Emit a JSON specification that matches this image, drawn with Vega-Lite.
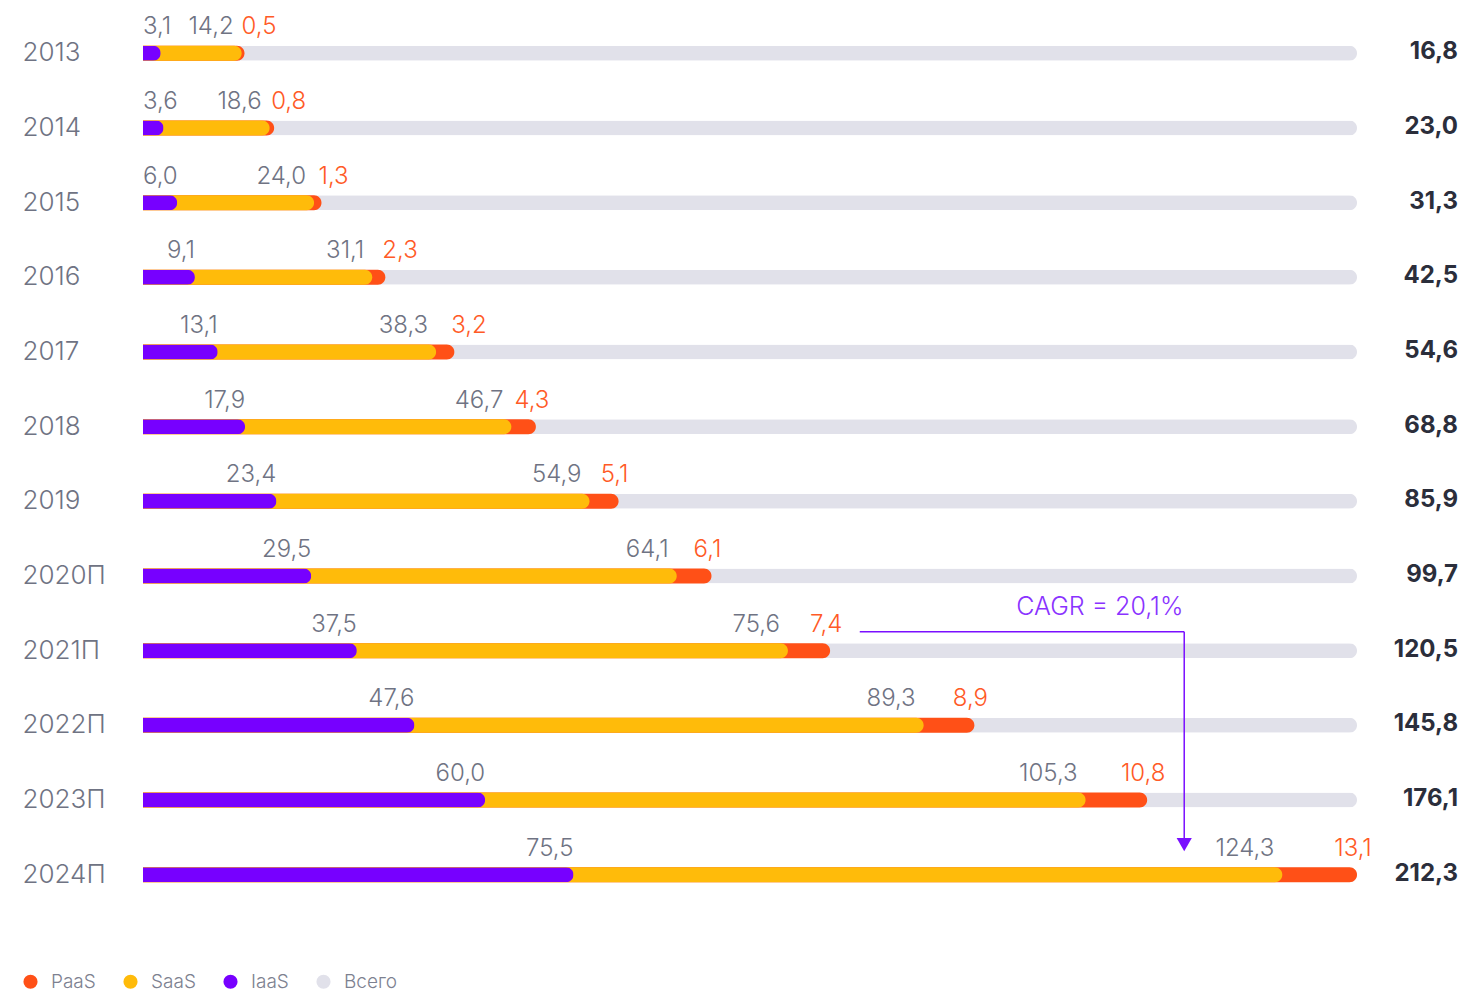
{
  "$schema": "https://vega.github.io/schema/vega-lite/v6.json",
  "width": 1214,
  "height": 896,
  "autosize": "none",
  "padding": {"left": 143, "top": 16, "right": 107, "bottom": 81},
  "background": "#ffffff",
  "config": {
    "view": {"stroke": null},
    "font": "Inter",
    "locale": {"number": {"decimal": ",", "thousands": " ", "grouping": [3], "currency": ["", ""]}}
  },
  "datasets": {
    "market": [
      {"year": "2013", "iaas": 3.1, "saas": 14.2, "paas": 0.5, "total": 16.8},
      {"year": "2014", "iaas": 3.6, "saas": 18.6, "paas": 0.8, "total": 23.0},
      {"year": "2015", "iaas": 6.0, "saas": 24.0, "paas": 1.3, "total": 31.3},
      {"year": "2016", "iaas": 9.1, "saas": 31.1, "paas": 2.3, "total": 42.5},
      {"year": "2017", "iaas": 13.1, "saas": 38.3, "paas": 3.2, "total": 54.6},
      {"year": "2018", "iaas": 17.9, "saas": 46.7, "paas": 4.3, "total": 68.8},
      {"year": "2019", "iaas": 23.4, "saas": 54.9, "paas": 5.1, "total": 85.9},
      {"year": "2020П", "iaas": 29.5, "saas": 64.1, "paas": 6.1, "total": 99.7},
      {"year": "2021П", "iaas": 37.5, "saas": 75.6, "paas": 7.4, "total": 120.5},
      {"year": "2022П", "iaas": 47.6, "saas": 89.3, "paas": 8.9, "total": 145.8},
      {"year": "2023П", "iaas": 60.0, "saas": 105.3, "paas": 10.8, "total": 176.1},
      {"year": "2024П", "iaas": 75.5, "saas": 124.3, "paas": 13.1, "total": 212.3}
    ],
    "note": [{"label": "CAGR = 20,1%"}]
  },
  "data": {"name": "market"},
  "encoding": {
    "y": {
      "field": "year",
      "type": "nominal",
      "scale": {"paddingInner": 0, "paddingOuter": 0},
      "axis": {
        "title": null,
        "ticks": false,
        "domain": false,
        "labelAlign": "left",
        "labelPadding": 121,
        "labelFontSize": 26,
        "labelFont": "Inter",
        "labelFontWeight": 300,
        "labelColor": "#6f7383",
        "labelBaseline": "middle"
      }
    }
  },
  "layer": [
    {
      "transform": [
        {"fold": ["iaas", "saas", "paas"], "as": ["k", "v"]},
        {"aggregate": [{"op": "sum", "field": "v", "as": "s"}], "groupby": ["year", "total"]},
        {"joinaggregate": [{"op": "max", "field": "s", "as": "m"}]}
      ],
      "layer": [
        {
          "mark": {"type": "bar", "height": 15, "cornerRadiusEnd": 7.5},
          "encoding": {
            "x": {"field": "m", "type": "quantitative", "scale": {"nice": false, "zero": true}, "axis": null},
            "color": {
              "datum": "Всего",
              "type": "nominal",
              "scale": {"domain": ["PaaS", "SaaS", "IaaS", "Всего"], "range": ["#ff5017", "#ffbb0a", "#7700ff", "#e1e1ea"]},
              "legend": {
                "title": null,
                "orient": "none",
                "direction": "horizontal",
                "legendX": -122,
                "legendY": 956,
                "symbolType": "circle",
                "symbolSize": 200,
                "symbolStrokeWidth": 0,
                "labelFontSize": 19,
                "labelFont": "Inter",
                "labelFontWeight": 300,
                "labelColor": "#7d8190",
                "labelOffset": 11,
                "columnPadding": 25
              }
            }
          }
        },
        {
          "mark": {"type": "text", "align": "right", "baseline": "middle", "dx": 101, "dy": -1, "fontSize": 24, "fontWeight": 700, "color": "#2b2e3b"},
          "encoding": {
            "x": {"field": "m", "type": "quantitative"},
            "text": {"field": "total", "type": "quantitative", "format": ".1f"}
          }
        }
      ]
    },
    {
      "transform": [{"fold": ["iaas", "saas", "paas"], "as": ["k", "v"]}],
      "mark": {"type": "bar", "height": 15, "cornerRadiusEnd": 7.5},
      "encoding": {
        "x": {"aggregate": "sum", "field": "v", "type": "quantitative"},
        "color": {"datum": "PaaS", "type": "nominal"}
      }
    },
    {
      "transform": [{"fold": ["iaas", "saas"], "as": ["k", "v"]}],
      "mark": {"type": "bar", "height": 15, "cornerRadiusEnd": 7.5},
      "encoding": {
        "x": {"aggregate": "sum", "field": "v", "type": "quantitative"},
        "color": {"datum": "SaaS", "type": "nominal"}
      }
    },
    {
      "mark": {"type": "bar", "height": 15, "cornerRadiusEnd": 7.5},
      "encoding": {
        "x": {"field": "iaas", "type": "quantitative"},
        "color": {"datum": "IaaS", "type": "nominal"}
      }
    },
    {
      "transform": [{"filter": "datum.iaas >= 7"}],
      "mark": {"type": "text", "align": "right", "baseline": "middle", "dy": -26, "dx": 0, "fontSize": 24, "fontWeight": 300, "color": "#6f7383"},
      "encoding": {
        "x": {"field": "iaas", "type": "quantitative"},
        "text": {"field": "iaas", "type": "quantitative", "format": ".1f"}
      }
    },
    {
      "transform": [{"filter": "datum.iaas < 7"}],
      "mark": {"type": "text", "align": "left", "baseline": "middle", "dy": -26, "fontSize": 24, "fontWeight": 300, "color": "#6f7383"},
      "encoding": {
        "x": {"datum": 0, "type": "quantitative"},
        "text": {"field": "iaas", "type": "quantitative", "format": ".1f"}
      }
    },
    {
      "transform": [
        {"fold": ["iaas", "saas"], "as": ["k", "v"]},
        {"aggregate": [{"op": "sum", "field": "v", "as": "s"}], "groupby": ["year", "saas"]}
      ],
      "mark": {"type": "text", "align": "right", "baseline": "middle", "dy": -26, "dx": -8, "fontSize": 24, "fontWeight": 300, "color": "#6f7383"},
      "encoding": {
        "x": {"field": "s", "type": "quantitative"},
        "text": {"field": "saas", "type": "quantitative", "format": ".1f"}
      }
    },
    {
      "transform": [
        {"fold": ["iaas", "saas", "paas"], "as": ["k", "v"]},
        {"aggregate": [{"op": "sum", "field": "v", "as": "s"}], "groupby": ["year", "paas"]}
      ],
      "layer": [
        {
          "transform": [{"filter": "datum.paas < 4"}],
          "mark": {"type": "text", "align": "left", "baseline": "middle", "dy": -26, "dx": -3, "fontSize": 24, "fontWeight": 300, "color": "#ff5a26"},
          "encoding": {
            "x": {"field": "s", "type": "quantitative"},
            "text": {"field": "paas", "type": "quantitative", "format": ".1f"}
          }
        },
        {
          "transform": [{"filter": "datum.paas >= 4"}],
          "mark": {"type": "text", "align": "center", "baseline": "middle", "dy": -26, "dx": -4, "fontSize": 24, "fontWeight": 300, "color": "#ff5a26"},
          "encoding": {
            "x": {"field": "s", "type": "quantitative"},
            "text": {"field": "paas", "type": "quantitative", "format": ".1f"}
          }
        }
      ]
    },
    {
      "data": {"name": "note"},
      "layer": [
        {
          "mark": {"type": "text", "align": "center", "baseline": "middle", "dy": -44, "fontSize": 25, "fontWeight": 300, "color": "#8a33ff"},
          "encoding": {
            "x": {"datum": 167.8, "type": "quantitative"},
            "y": {"datum": "2021П"},
            "text": {"field": "label"}
          }
        },
        {
          "mark": {"type": "rule", "color": "#7a0fff", "strokeWidth": 1.5, "yOffset": -19},
          "encoding": {
            "x": {"datum": 125.7, "type": "quantitative"},
            "x2": {"datum": 182.6},
            "y": {"datum": "2021П"}
          }
        },
        {
          "mark": {"type": "rule", "color": "#7a0fff", "strokeWidth": 1.5, "yOffset": -19, "y2Offset": -34},
          "encoding": {
            "x": {"datum": 182.6, "type": "quantitative"},
            "y": {"datum": "2021П"},
            "y2": {"datum": "2024П"}
          }
        },
        {
          "mark": {"type": "point", "shape": "triangle-down", "filled": true, "opacity": 1, "size": 230, "color": "#7a0fff", "yOffset": -30},
          "encoding": {
            "x": {"datum": 182.6, "type": "quantitative"},
            "y": {"datum": "2024П"}
          }
        }
      ]
    }
  ],
  "resolve": {"scale": {"color": "shared"}}
}
